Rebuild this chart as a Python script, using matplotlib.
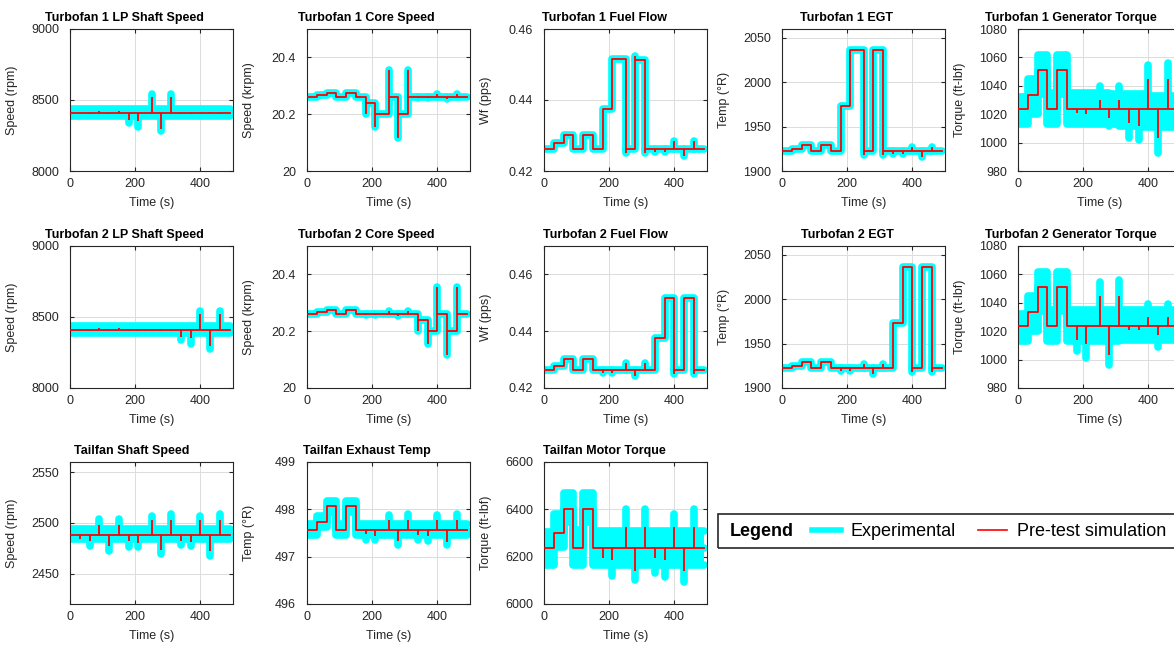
import numpy as np
import matplotlib
matplotlib.use("Agg")
import matplotlib.pyplot as plt
from matplotlib.lines import Line2D
from matplotlib.patches import Rectangle
from matplotlib.ticker import FuncFormatter

plt.rcParams['font.family'] = ['Liberation Sans', 'DejaVu Sans']

# segment edges of the test sequence (s)
t_edges = [3, 30, 60, 90, 120, 150, 180, 210, 250, 280, 310, 340, 370, 400, 430, 460, 490]

# ---- Turbofan 1 ----
tf1_lp_sim = [8410, 8410, 8410, 8410, 8410, 8410, 8410, 8410, 8410, 8410, 8410, 8410, 8410, 8410, 8410, 8410]
tf1_lp_lo = [8386, 8386, 8386, 8386, 8386, 8386, 8386, 8386, 8386, 8386, 8386, 8386, 8386, 8386, 8386, 8386]
tf1_lp_hi = [8438, 8438, 8438, 8438, 8438, 8438, 8438, 8438, 8438, 8438, 8438, 8438, 8438, 8438, 8438, 8438]
tf1_lp_sim_spk = [(30, 8401), (60, 8401), (90, 8420), (120, 8398), (150, 8420), (180, 8362), (210, 8350),
                  (250, 8522), (280, 8298), (310, 8522), (340, 8404), (370, 8404), (400, 8402), (430, 8418), (460, 8402)]
tf1_lp_exp_spk = [(180, 8335), (210, 8312), (250, 8540), (280, 8280), (310, 8540)]

tf1_core_sim = [20.262, 20.266, 20.276, 20.262, 20.276, 20.262, 20.240, 20.202,
                20.262, 20.202, 20.262, 20.262, 20.262, 20.262, 20.262, 20.262]
tf1_core_spk = [(180, 20.200), (210, 20.155), (250, 20.355), (280, 20.116), (310, 20.355),
                (340, 20.256), (370, 20.256), (400, 20.272), (430, 20.252), (460, 20.272)]

tf1_wf_sim = [0.4263, 0.4278, 0.4302, 0.4263, 0.4302, 0.4263, 0.4374, 0.4516,
              0.4263, 0.4514, 0.4263, 0.4263, 0.4263, 0.4263, 0.4263, 0.4263]
tf1_wf_spk = [(250, 0.4251), (280, 0.4524), (310, 0.4251), (340, 0.4254), (370, 0.4254),
              (400, 0.4285), (430, 0.4242), (460, 0.4285)]

tf1_egt_sim = [1922, 1925, 1929, 1922, 1929, 1922, 1973, 2036, 1922, 2036, 1922, 1922, 1922, 1922, 1922, 1922]
tf1_egt_spk = [(250, 1918), (310, 1918), (340, 1919), (370, 1919), (400, 1927), (430, 1916), (460, 1927)]

tf1_trq_sim = [1024, 1033.5, 1051, 1024, 1051, 1024, 1024, 1024, 1024, 1024, 1024, 1024, 1024, 1024, 1024, 1024]
tf1_trq_lo = [1013, 1020, 1034, 1013, 1034, 1013, 1013, 1013, 1013, 1013, 1012, 1012, 1011, 1011, 1011, 1011]
tf1_trq_hi = [1032, 1045, 1062, 1035, 1062, 1035, 1035, 1035, 1035, 1034, 1034, 1034, 1034, 1033, 1033, 1033]
tf1_trq_sim_spk = [(180, 1021), (210, 1020), (250, 1030), (280, 1017), (310, 1030), (340, 1014),
                   (370, 1012), (400, 1045), (430, 1003), (460, 1045)]
tf1_trq_exp_spk = [(250, 1040), (280, 1012), (310, 1040), (340, 1003), (370, 1002), (400, 1055),
                   (430, 993), (460, 1056)]

# ---- Turbofan 2 ----
tf2_lp_sim = [8410, 8410, 8410, 8410, 8410, 8410, 8410, 8410, 8410, 8410, 8410, 8410, 8410, 8410, 8410, 8410]
tf2_lp_lo = [8386, 8386, 8386, 8386, 8386, 8386, 8386, 8386, 8386, 8386, 8386, 8386, 8386, 8386, 8386, 8386]
tf2_lp_hi = [8438, 8438, 8438, 8438, 8438, 8438, 8438, 8438, 8438, 8438, 8438, 8438, 8438, 8438, 8438, 8438]
tf2_lp_sim_spk = [(30, 8401), (60, 8401), (90, 8420), (120, 8398), (150, 8420), (180, 8404), (210, 8404),
                  (250, 8402), (280, 8418), (310, 8402), (340, 8362), (370, 8350), (400, 8522), (430, 8298), (460, 8522)]
tf2_lp_exp_spk = [(340, 8335), (370, 8312), (400, 8545), (430, 8278), (460, 8545)]

tf2_core_sim = [20.262, 20.266, 20.276, 20.262, 20.276, 20.262, 20.262, 20.262,
                20.262, 20.262, 20.262, 20.240, 20.202, 20.262, 20.202, 20.262]
tf2_core_spk = [(180, 20.256), (210, 20.256), (250, 20.270), (280, 20.252), (310, 20.270),
                (340, 20.200), (370, 20.155), (400, 20.355), (430, 20.116), (460, 20.355)]

tf2_wf_sim = [0.4265, 0.4278, 0.4302, 0.4265, 0.4302, 0.4265, 0.4265, 0.4265,
              0.4265, 0.4265, 0.4265, 0.4377, 0.4516, 0.4265, 0.4516, 0.4265]
tf2_wf_spk = [(180, 0.4254), (210, 0.4254), (250, 0.4288), (280, 0.4243), (310, 0.4288),
              (400, 0.4251), (460, 0.4251)]

tf2_egt_sim = [1922, 1925, 1929, 1922, 1929, 1922, 1922, 1922, 1922, 1922, 1922, 1973, 2036, 1922, 2036, 1922]
tf2_egt_spk = [(180, 1919), (210, 1919), (250, 1927), (280, 1916), (310, 1927), (400, 1918), (460, 1918)]

tf2_trq_sim = [1024, 1033.5, 1051, 1024, 1051, 1024, 1024, 1024, 1024, 1024, 1024, 1024, 1024, 1024, 1024, 1024]
tf2_trq_lo = [1013, 1020, 1034, 1013, 1034, 1013, 1013, 1013, 1013, 1013, 1014, 1014, 1014, 1014, 1014, 1014]
tf2_trq_hi = [1032, 1045, 1062, 1035, 1062, 1035, 1035, 1035, 1035, 1035, 1035, 1035, 1035, 1035, 1035, 1035]
tf2_trq_sim_spk = [(180, 1014), (210, 1011), (250, 1045), (280, 1003), (310, 1045), (340, 1021),
                   (370, 1021), (400, 1030), (430, 1017), (460, 1030)]
tf2_trq_exp_spk = [(180, 1006), (210, 1001), (250, 1055), (280, 996), (310, 1056), (400, 1039),
                   (430, 1009), (460, 1039)]

# ---- Tailfan ----
tail_spd_sim = [2488, 2488, 2488, 2488, 2488, 2488, 2488, 2488, 2488, 2488, 2488, 2488, 2488, 2488, 2488, 2488]
tail_spd_lo = [2484, 2484, 2484, 2484, 2484, 2484, 2484, 2484, 2484, 2484, 2484, 2484, 2484, 2484, 2484, 2484]
tail_spd_hi = [2494, 2494, 2494, 2494, 2494, 2494, 2494, 2494, 2494, 2494, 2494, 2494, 2494, 2494, 2494, 2494]
tail_spd_sim_spk = [(30, 2484), (60, 2482), (90, 2498), (120, 2477), (150, 2498), (180, 2482), (210, 2480),
                    (250, 2503), (280, 2473), (310, 2503), (340, 2482), (370, 2481), (400, 2503), (430, 2472), (460, 2503)]
tail_spd_exp_spk = [(60, 2477), (90, 2504), (120, 2472), (150, 2504), (180, 2476), (210, 2476), (250, 2507),
                    (280, 2469), (310, 2509), (340, 2478), (370, 2477), (400, 2507), (430, 2467), (460, 2509)]

tail_egt_sim = [497.57, 497.73, 498.06, 497.57, 498.06, 497.57, 497.57, 497.57,
                497.57, 497.57, 497.57, 497.57, 497.57, 497.57, 497.57, 497.57]
tail_egt_lo = [497.45, 497.62, 497.95, 497.45, 497.95, 497.45, 497.45, 497.45,
               497.45, 497.45, 497.45, 497.45, 497.45, 497.45, 497.45, 497.45]
tail_egt_hi = [497.70, 497.85, 498.18, 497.70, 498.18, 497.70, 497.70, 497.70,
               497.70, 497.70, 497.70, 497.70, 497.70, 497.70, 497.70, 497.70]
tail_egt_sim_spk = [(180, 497.47), (210, 497.43), (250, 497.78), (280, 497.33), (310, 497.78),
                    (340, 497.46), (370, 497.44), (400, 497.78), (430, 497.32), (460, 497.78)]
tail_egt_exp_spk = [(180, 497.35), (210, 497.35), (250, 497.88), (280, 497.25), (310, 497.90),
                    (340, 497.35), (370, 497.33), (400, 497.88), (430, 497.25), (460, 497.90)]

tail_trq_sim = [6238, 6298, 6402, 6238, 6402, 6238, 6238, 6238, 6238, 6238, 6238, 6238, 6238, 6238, 6238, 6238]
tail_trq_lo = [6166, 6240, 6346, 6166, 6346, 6166, 6166, 6166, 6166, 6166, 6166, 6166, 6166, 6166, 6166, 6166]
tail_trq_hi = [6304, 6380, 6470, 6314, 6468, 6310, 6310, 6310, 6310, 6310, 6310, 6310, 6310, 6310, 6310, 6310]
tail_trq_sim_spk = [(180, 6195), (210, 6185), (250, 6325), (280, 6140), (310, 6325), (340, 6195),
                    (370, 6185), (400, 6325), (430, 6140), (460, 6325)]
tail_trq_exp_spk = [(210, 6120), (250, 6400), (280, 6100), (310, 6400), (340, 6130), (370, 6115),
                    (400, 6380), (430, 6095), (460, 6400)]

CYAN = '#00FFFF'
RED = '#FF0000'
W, H = 1174, 647

fig = plt.figure(figsize=(W / 100, H / 100), dpi=100, facecolor='white')

col_left = [70, 307, 544, 782, 1018]
row_top = [29, 246, 462]
ax_w, ax_h = 163, 142

# (row, col, title, title centre px, ylabel, ylim, yticks, sim, lo, hi, sim spikes, exp spikes)
panels = [
    (0, 0, 'Turbofan 1 LP Shaft Speed', 124, 'Speed (rpm)', (8000, 9000), [8000, 8500, 9000],
     tf1_lp_sim, tf1_lp_lo, tf1_lp_hi, tf1_lp_sim_spk, tf1_lp_exp_spk),
    (0, 1, 'Turbofan 1 Core Speed', 366, 'Speed (krpm)', (20, 20.5), [20, 20.2, 20.4],
     tf1_core_sim, None, None, tf1_core_spk, tf1_core_spk),
    (0, 2, 'Turbofan 1 Fuel Flow', 605, 'Wf (pps)', (0.42, 0.46), [0.42, 0.44, 0.46],
     tf1_wf_sim, None, None, tf1_wf_spk, tf1_wf_spk),
    (0, 3, 'Turbofan 1 EGT', 847, 'Temp (°R)', (1900, 2060), [1900, 1950, 2000, 2050],
     tf1_egt_sim, None, None, tf1_egt_spk, tf1_egt_spk),
    (0, 4, 'Turbofan 1 Generator Torque', 1071, 'Torque (ft-lbf)', (980, 1080), [980, 1000, 1020, 1040, 1060, 1080],
     tf1_trq_sim, tf1_trq_lo, tf1_trq_hi, tf1_trq_sim_spk, tf1_trq_exp_spk),
    (1, 0, 'Turbofan 2 LP Shaft Speed', 124, 'Speed (rpm)', (8000, 9000), [8000, 8500, 9000],
     tf2_lp_sim, tf2_lp_lo, tf2_lp_hi, tf2_lp_sim_spk, tf2_lp_exp_spk),
    (1, 1, 'Turbofan 2 Core Speed', 366, 'Speed (krpm)', (20, 20.5), [20, 20.2, 20.4],
     tf2_core_sim, None, None, tf2_core_spk, tf2_core_spk),
    (1, 2, 'Turbofan 2 Fuel Flow', 605, 'Wf (pps)', (0.42, 0.47), [0.42, 0.44, 0.46],
     tf2_wf_sim, None, None, tf2_wf_spk, tf2_wf_spk),
    (1, 3, 'Turbofan 2 EGT', 847, 'Temp (°R)', (1900, 2060), [1900, 1950, 2000, 2050],
     tf2_egt_sim, None, None, tf2_egt_spk, tf2_egt_spk),
    (1, 4, 'Turbofan 2 Generator Torque', 1071, 'Torque (ft-lbf)', (980, 1080), [980, 1000, 1020, 1040, 1060, 1080],
     tf2_trq_sim, tf2_trq_lo, tf2_trq_hi, tf2_trq_sim_spk, tf2_trq_exp_spk),
    (2, 0, 'Tailfan Shaft Speed', 132, 'Speed (rpm)', (2420, 2560), [2450, 2500, 2550],
     tail_spd_sim, tail_spd_lo, tail_spd_hi, tail_spd_sim_spk, tail_spd_exp_spk),
    (2, 1, 'Tailfan Exhaust Temp', 367, 'Temp (°R)', (496, 499), [496, 497, 498, 499],
     tail_egt_sim, tail_egt_lo, tail_egt_hi, tail_egt_sim_spk, tail_egt_exp_spk),
    (2, 2, 'Tailfan Motor Torque', 604, 'Torque (ft-lbf)', (6000, 6600), [6000, 6200, 6400, 6600],
     tail_trq_sim, tail_trq_lo, tail_trq_hi, tail_trq_sim_spk, tail_trq_exp_spk),
]


def level_at(levels, t):
    i = np.searchsorted(t_edges, t, side='right') - 1
    return levels[min(i, len(levels) - 1)]


for (r, c, title, tcx, ylab, ylim, yticks, sim, lo, hi, sim_spk, exp_spk) in panels:
    left, top = col_left[c], row_top[r]
    ax = fig.add_axes([left / W, 1 - (top + ax_h) / H, ax_w / W, ax_h / H])

    # experimental: noise band + thick trace
    traces = [sim]
    if lo is not None:
        ax.stairs(hi, t_edges, baseline=lo, fill=True, facecolor=CYAN, edgecolor='none',
                  linewidth=0, zorder=2)
        traces = [lo, hi, sim]
    for band in traces:
        ax.step(t_edges, list(band) + [band[-1]], where='post', color=CYAN, lw=5.5,
                solid_joinstyle='round', solid_capstyle='round', zorder=2)
    ax.vlines([s[0] for s in exp_spk], [level_at(sim, s[0]) for s in exp_spk], [s[1] for s in exp_spk],
              color=CYAN, lw=5.5, capstyle='round', zorder=2)

    # pre-test simulation
    ax.step(t_edges, list(sim) + [sim[-1]], where='post', color=RED, lw=1.3, zorder=3)
    ax.vlines([s[0] for s in sim_spk], [level_at(sim, s[0]) for s in sim_spk], [s[1] for s in sim_spk],
              color=RED, lw=1.3, zorder=3)

    ax.set_xlim(0, 500)
    ax.set_xticks([0, 200, 400])
    ax.set_ylim(*ylim)
    ax.set_yticks(yticks)
    ax.yaxis.set_major_formatter(FuncFormatter(lambda v, p: f'{v:g}'))
    ax.grid(True, color='#dcdcdc', lw=0.7)
    ax.set_axisbelow(True)
    ax.tick_params(direction='in', length=3, top=True, right=True, labelsize=9, colors='#262626')
    ax.tick_params(axis='y', pad=8)
    ax.tick_params(axis='x', pad=5)
    for s in ax.spines.values():
        s.set_color('#262626')
        s.set_linewidth(0.8)

    ax.set_title(title, fontsize=9, fontweight='bold', x=(tcx - left) / ax_w, pad=6)
    ax.set_xlabel('Time (s)', fontsize=9, color='#262626', labelpad=5)
    ax.set_ylabel(ylab, fontsize=9, color='#262626')
    ax.yaxis.set_label_coords(-0.32, 0.5)

# legend box
fig.add_artist(Rectangle((718 / W, 1 - 548 / H), 500 / W, 34 / H, transform=fig.transFigure,
                         fill=False, ec='#262626', lw=1.2))
fig.text(730 / W, 1 - 532 / H, 'Legend', fontsize=13, fontweight='bold', va='center', ha='left')
handles = [Line2D([], [], color=CYAN, lw=4), Line2D([], [], color=RED, lw=1.2)]
fig.legend(handles, ['Experimental', 'Pre-test simulation'], ncol=2, loc='center left',
           bbox_to_anchor=(812 / W, 1 - 532 / H), frameon=False, fontsize=13,
           handlelength=1.6, handletextpad=0.55, columnspacing=1.2, borderpad=0, borderaxespad=0)

fig.savefig('out.png', dpi=100)
